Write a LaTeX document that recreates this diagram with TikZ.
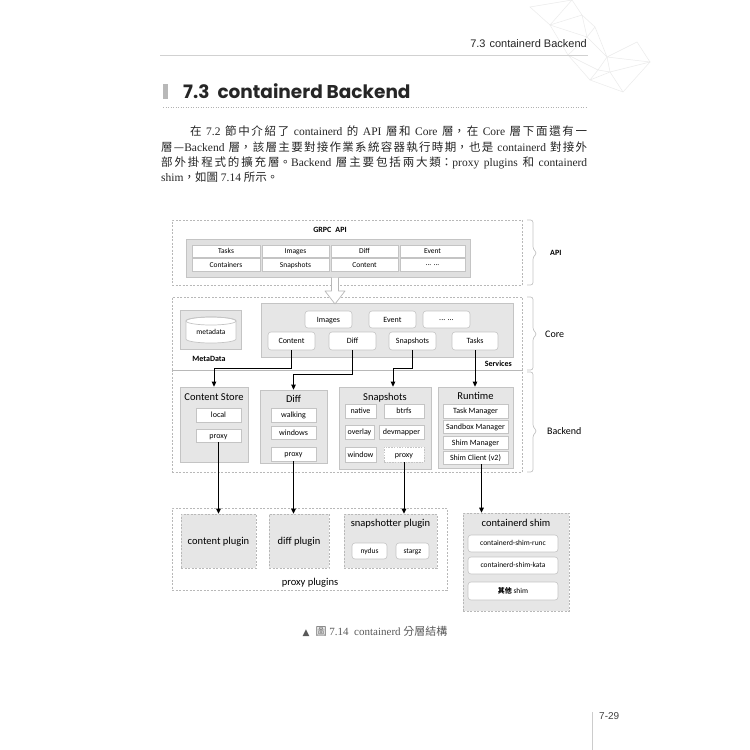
\documentclass[tikz,border=0pt]{standalone}
\usepackage{fontspec}
\setmainfont{Liberation Serif}
\newfontfamily\cjk{Noto Sans CJK TC}
\newfontfamily\dg{Carlito}
\newfontfamily\hd{Liberation Sans}
\newfontfamily\ttl{Poppins}
\newfontfamily\sym{DejaVu Sans}
\usetikzlibrary{arrows.meta,calc}
\XeTeXlinebreaklocale "zh"
\XeTeXlinebreakskip=0pt plus 1.5pt
\newcommand\zh[1]{{\cjk #1}}
\newcommand\mdots{\raisebox{2pt}{... ...}}
\definecolor{bx}{HTML}{E6E6E6}
\definecolor{bd}{HTML}{C4C4C4}
\definecolor{dsh}{HTML}{B8B8B8}
\definecolor{txt}{HTML}{262626}
\definecolor{mesh}{HTML}{EBEBEB}
% box from corners: style, name, x1, y1, x2, y2, text
\newcommand\bx[7]{%
 \pgfmathsetmacro\bxcx{(#3+#5)/2}\pgfmathsetmacro\bxcy{(#4+#6)/2}%
 \pgfmathsetmacro\bxw{#5-#3}\pgfmathsetmacro\bxh{#6-#4}%
 \node[#1, minimum width=\bxw pt, minimum height=\bxh pt] (#2) at (\bxcx,\bxcy) {#7};}
\tikzset{
 dashbox/.style={draw=dsh, dash pattern=on 2pt off 1.5pt, line width=0.6pt, inner sep=0pt},
 graybox/.style={draw=bd, fill=bx, line width=0.7pt, inner sep=0pt},
 dgraybox/.style={draw=dsh, fill=bx, dash pattern=on 2pt off 1.5pt, line width=0.6pt, inner sep=0pt},
 cell/.style={draw=bd, fill=white, line width=0.6pt, inner sep=0pt, font=\dg\fontsize{7.5}{8}\selectfont, text height=4.9pt, text depth=0pt},
 svcbox/.style={cell, rounded corners=3pt, font=\dg\fontsize{8}{9}\selectfont, text height=5.2pt},
 itm/.style={cell, font=\dg\fontsize{8}{9}\selectfont, text height=5.2pt},
 smallsvc/.style={svcbox, font=\dg\fontsize{7.5}{9}\selectfont, text height=4.9pt},
 ttlb/.style={font=\dg\fontsize{10.5}{12}\selectfont, inner sep=0pt, text height=6.8pt, text depth=0pt},
 lbl/.style={font=\dg\bfseries\fontsize{8}{9}\selectfont, inner sep=0pt, text height=5.2pt, text depth=0pt},
 sidelbl/.style={font=\dg\fontsize{10}{12}\selectfont, inner sep=0pt, anchor=west, text height=6.5pt, text depth=0pt},
 sbrace/.style={draw=bd, line width=0.7pt, rounded corners=2.5pt},
 arr/.style={draw=black, line width=1pt, -{Triangle[length=5pt,width=4.5pt]}},
 plug/.style={font=\dg\fontsize{10.5}{12}\selectfont, text height=6.8pt, text depth=0pt},
}
\begin{document}
\begin{tikzpicture}[x=1pt,y=-1pt]
\useasboundingbox[fill=white] (0,0) rectangle (750,750);
% decorative mesh
\coordinate (mA) at (530,7); \coordinate (mB) at (550,25); \coordinate (mC) at (572,0);
\coordinate (mD) at (582,15); \coordinate (mM) at (587,37); \coordinate (mE) at (595,27);
\coordinate (mF) at (568,55); \coordinate (mH) at (607,57); \coordinate (mI) at (637,42);
\coordinate (mJ) at (650,62); \coordinate (mN) at (598,70); \coordinate (mL) at (610,72);
\coordinate (mG) at (590,80); \coordinate (mK) at (623,92);
\draw[mesh, line width=0.5pt] (mA)--(mB)--(mC)--cycle (mC)--(mD)--(mB)--(mM)--(mD)--(mE)--(mM)--(mF)--(mB)
 (mM)--(mH)--(mE) (mH)--(mI)--(mJ)--(mH)--(mL)--(mJ)--(mK)--(mL)--(mG)--(mK) (mF)--(mG)--(mN)--(mH) (mF)--(mN)--(mL);
% header
\node[font=\hd\fontsize{11}{13}\selectfont, text=txt, anchor=east, inner sep=0pt] (hdr) at (587,44) {7.3\hspace{4pt}containerd Backend};
\draw[black!18, line width=0.6pt] (160,55) -- (588,55);
\fill[black!28] (163,84) rectangle (168,99);
\node[font=\ttl\bfseries\fontsize{18.5}{20}\selectfont, text=black!85, anchor=west, inner sep=0pt] (title) at (183,91) {7.3\hspace{8pt}containerd Backend};
\draw[black!30, line width=0.8pt, dash pattern=on 1pt off 1.5pt] (163,107) -- (587,107);
% body
\node[anchor=north west, inner sep=0pt, text width=426pt, align=justify, text=txt, font=\fontsize{11.5}{15.3}\selectfont] (body) at (161,126) {\hspace*{29pt}\zh{在} 7.2 \zh{節中介紹了} containerd \zh{的} API \zh{層和} Core \zh{層，在} Core \zh{層下面還有一}\linebreak
\zh{層—}Backend \zh{層，該層主要對接作業系統容器執行時期，也是} containerd \zh{對接外}\linebreak
\zh{部外掛程式的擴充層。}Backend \zh{層主要包括兩大類：}proxy plugins \zh{和} containerd\linebreak
shim\zh{，如圖} 7.14 \zh{所示。}};
% ===== API layer
\bx{dashbox}{api}{172}{220}{522}{285}{}
\node[lbl] (grpc) at (330,230) {GRPC\hspace{4pt}API};
\bx{graybox, fill=black!12}{apig}{186}{239}{470}{277}{}
\bx{cell}{a1}{192}{245}{260}{257.5}{Tasks}
\bx{cell}{a2}{262}{245}{329}{257.5}{Images}
\bx{cell}{a3}{331}{245}{398}{257.5}{Diff}
\bx{cell}{a4}{400}{245}{465}{257.5}{Event}
\bx{cell}{b1}{192}{258.5}{260}{271}{Containers}
\bx{cell}{b2}{262}{258.5}{329}{271}{Snapshots}
\bx{cell}{b3}{331}{258.5}{398}{271}{Content}
\bx{cell}{b4}{400}{258.5}{465}{271}{\mdots}
% ===== Core layer
\bx{dashbox}{core}{172}{297}{522}{370}{}
\bx{graybox}{metabox}{180}{310}{241}{349}{}
\path[fill=white, draw=bd, line width=0.7pt] (186,321) -- (186,339) arc[start angle=180, end angle=360, x radius=25pt, y radius=4pt] -- (236,321) arc[start angle=0, end angle=180, x radius=25pt, y radius=4pt] -- cycle;
\draw[bd, line width=0.7pt] (211,321) ellipse[x radius=25pt, y radius=4pt];
\node[font=\dg\fontsize{7.5}{9}\selectfont, inner sep=0pt, text height=4.9pt, text depth=0pt] (meta) at (211,332) {metadata};
\node[lbl] (metalbl) at (209,359) {MetaData};
\bx{graybox}{svcs}{261}{303}{513}{357}{}
\node[lbl, anchor=east] (svclbl) at (512,364) {Services};
\bx{svcbox}{sImages}{305}{311}{352}{328}{Images}
\bx{svcbox}{sEvent}{369}{311}{416}{328}{Event}
\bx{svcbox}{sMore}{423}{311}{470}{328}{\mdots}
\bx{svcbox}{sContent}{268}{332}{315}{350}{Content}
\bx{svcbox}{sDiff}{329}{332}{376}{350}{Diff}
\bx{svcbox}{sSnap}{389}{332}{436}{350}{Snapshots}
\bx{svcbox}{sTasks}{452}{332}{498}{350}{Tasks}
% hollow arrow API -> Core
\draw[draw=dsh, fill=white, line width=0.7pt, line join=round] (331.5,277.5) -- (331.5,291) -- (325,291) -- (335,304) -- (345,291) -- (338.5,291) -- (338.5,277.5);
% ===== Backend layer
\bx{dashbox}{backend}{172}{370}{522}{472}{}
\bx{graybox}{cs}{180}{387}{248}{462}{}
\node[ttlb] (cst) at (214,397) {Content Store};
\bx{itm}{cslocal}{196}{408}{241}{422}{local}
\bx{itm}{csproxy}{196}{429}{241}{442}{proxy}
\bx{graybox}{bdiff}{260}{390}{327}{463}{}
\node[ttlb] (bdifft) at (293.5,399) {Diff};
\bx{itm}{dwalk}{271}{408}{316}{422}{walking}
\bx{itm}{dwin}{271}{426}{316}{439}{windows}
\bx{itm}{dproxy}{271}{447}{316}{461}{proxy}
\bx{graybox}{bsnap}{339}{387}{431}{469}{}
\node[ttlb] (bsnapt) at (385,397) {Snapshots};
\bx{itm}{snative}{345}{404}{376}{418}{native}
\bx{itm}{sbtrfs}{384}{404}{424}{418}{btrfs}
\bx{itm}{soverlay}{345}{425}{374}{439}{overlay}
\bx{itm}{sdevm}{379}{425}{424}{439}{devmapper}
\bx{itm}{swindow}{345}{447}{376}{462}{window}
\bx{itm, dash pattern=on 1.5pt off 1.2pt}{sproxy}{384}{447}{424}{462}{proxy}
\bx{graybox}{rt}{438}{387}{513}{468}{}
\node[ttlb] (rtt) at (475.5,396) {Runtime};
\bx{itm}{rtask}{443}{404}{508}{418}{Task Manager}
\bx{itm}{rsand}{443}{420}{508}{433}{Sandbox Manager}
\bx{itm}{rshimm}{443}{436}{508}{449}{Shim Manager}
\bx{itm}{shimcl}{443}{451}{508}{464}{Shim Client (v2)}
% side braces and labels
\draw[sbrace] (527,220) -- (533,220) -- (533,249) -- (537,253) -- (533,257) -- (533,285) -- (527,285);
\draw[sbrace] (527,297) -- (533,297) -- (533,330) -- (537,334) -- (533,338) -- (533,370) -- (527,370);
\draw[sbrace] (527,372) -- (533,372) -- (533,427) -- (537,431) -- (533,435) -- (533,472) -- (527,472);
\node[lbl, anchor=west] (apil) at (550,253) {API};
\node[sidelbl] (corel) at (545,334) {Core};
\node[sidelbl] (bel) at (547,431) {Backend};
% ===== plugins
\bx{dashbox}{pp}{172}{508}{447}{590}{}
\node[plug, inner sep=0pt] (ppl) at (310,582) {proxy plugins};
\bx{dgraybox, plug}{cplug}{181}{514}{256}{568}{content plugin}
\bx{dgraybox, plug}{dplug}{269}{514}{329}{568}{diff plugin}
\bx{dgraybox}{splug}{344}{514}{437}{568}{}
\node[plug, inner sep=0pt] (splugt) at (390.5,523) {snapshotter plugin};
\bx{smallsvc}{nydus}{352}{543}{387}{559}{nydus}
\bx{smallsvc}{stargz}{396}{543}{429}{559}{stargz}
\bx{dgraybox}{shim}{463}{513}{569}{611}{}
\node[plug, inner sep=0pt] (shimt) at (516,523) {containerd shim};
\bx{smallsvc}{runc}{468}{535}{558}{552}{containerd-shim-runc}
\bx{smallsvc}{kata}{468}{557}{558}{574}{containerd-shim-kata}
\bx{smallsvc}{other}{468}{582}{558}{600}{{\cjk\bfseries\fontsize{7}{9}\selectfont 其他} shim}
% ===== connectors
\draw[arr] (sContent.south) -- (sContent.south |- 0,368) -| (cs.north);
\draw[arr] (sDiff.south) -- (sDiff.south |- 0,374) -| (bdiff.north);
\coordinate (snapin) at ($(bsnap.north)+(8,0)$);
\draw[arr] (sSnap.south) -- (sSnap.south |- 0,368) -| (snapin);
\draw[arr] (sTasks.south) -- (sTasks.south |- rt.north);
\draw[arr] (csproxy.south) -- (csproxy.south |- cplug.north);
\draw[arr] (dproxy.south) -- (dproxy.south |- dplug.north);
\draw[arr] (sproxy.south) -- (sproxy.south |- splug.north);
\coordinate (scout) at ($(shimcl.south)+(6,0)$);
\draw[arr] (scout) -- (scout |- shim.north);
% caption
\node[inner sep=0pt, text=black!65, font=\fontsize{11}{13}\selectfont] (cap) at (375,631) {{\sym\fontsize{9}{11}\selectfont ▲}\hspace{6pt}\zh{圖} 7.14\hspace{3pt} containerd \zh{分層結構}};
% page number
\draw[black!20, line width=0.6pt] (592,712) -- (592,750);
\node[font=\hd\fontsize{10}{12}\selectfont, text=black!75, anchor=west, inner sep=0pt] (pg) at (599,716) {7-29};
\end{tikzpicture}
\end{document}
